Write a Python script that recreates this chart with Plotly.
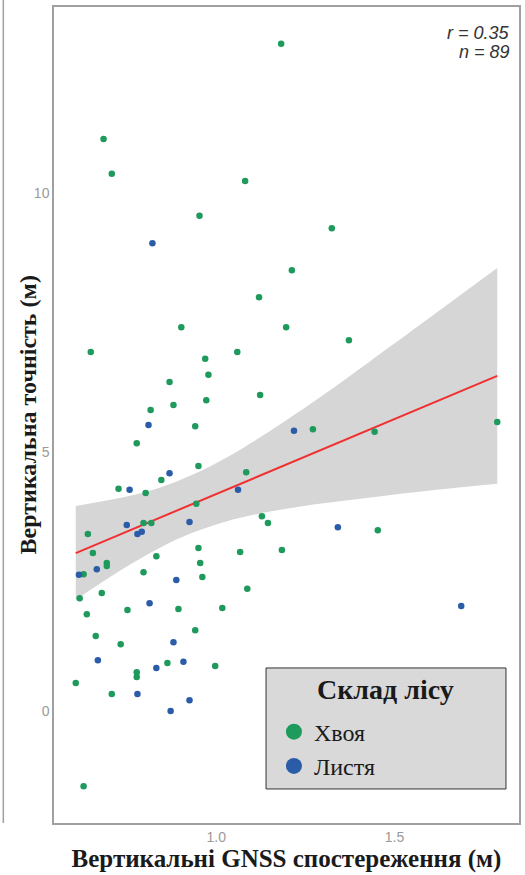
import plotly.graph_objects as go

conifer_x = [0.684, 0.707, 1.081, 0.953, 1.120, 1.182, 1.324, 1.212, 0.902, 0.648,
             1.059, 0.969, 0.978, 0.869, 1.123, 0.972, 0.880, 0.816, 0.941, 0.777,
             0.950, 1.084, 0.846, 0.726, 0.802, 0.944, 0.796, 0.818, 0.640, 0.950,
             0.654, 1.067, 0.832, 0.693, 0.693, 0.955, 0.628, 0.796, 0.961, 1.087,
             0.617, 0.679, 1.196, 1.372, 1.271, 1.444, 1.788, 1.128, 1.145, 1.453,
             1.184, 0.637, 0.751, 0.894, 1.017, 0.941, 0.662, 0.732, 0.863, 0.997,
             0.777, 0.777, 0.606, 0.707, 0.628]
conifer_y = [11.04, 10.37, 10.23, 9.56, 7.99, 12.88, 9.32, 8.51, 7.41, 6.93,
             6.93, 6.80, 6.49, 6.35, 6.10, 6.00, 5.91, 5.81, 5.50, 5.17,
             4.73, 4.61, 4.46, 4.29, 4.21, 4.00, 3.63, 3.63, 3.42, 3.15,
             3.05, 3.07, 2.99, 2.86, 2.80, 2.86, 2.64, 2.68, 2.59, 2.36,
             2.18, 2.28, 7.41, 7.16, 5.44, 5.39, 5.58, 3.76, 3.63, 3.49,
             3.11, 1.87, 1.95, 1.97, 1.99, 1.56, 1.45, 1.29, 0.93, 0.87,
             0.75, 0.66, 0.54, 0.33, -1.45]

leaf_x = [0.821, 0.810, 0.869, 0.757, 1.061, 0.749, 0.925, 0.779, 0.791, 0.615,
          0.665, 0.888, 1.218, 1.341, 0.813, 0.880, 0.668, 0.832, 0.908, 0.779,
          0.925, 0.872, 1.687]
leaf_y = [9.03, 5.52, 4.59, 4.27, 4.27, 3.59, 3.65, 3.42, 3.46, 2.63,
          2.74, 2.53, 5.41, 3.55, 2.08, 1.33, 0.98, 0.83, 0.95, 0.33,
          0.21, 0.00, 2.03]

# Linear fit and its 95% confidence band
fit_x = [0.606, 1.788]
fit_y = [3.05, 6.47]
band_x = [0.606, 0.749, 0.841, 0.933, 1.028, 1.120, 1.176, 1.300, 1.427, 1.600, 1.788]
band_hi = [3.96, 4.14, 4.31, 4.56, 4.89, 5.27, 5.52, 6.10, 6.73, 7.60, 8.55]
band_lo = [2.15, 2.79, 3.15, 3.44, 3.66, 3.81, 3.88, 4.01, 4.12, 4.26, 4.39]

group_names = ["Хвоя", "Листя"]
group_colors = ["#1e9a5c", "#2a5ca8"]
legend_title = "Склад лісу"

x_ticks = [1.0, 1.5]
y_ticks = [0, 5, 10]
stats_text = ["r = 0.35", "n = 89"]

serif = "Liberation Serif, Times New Roman, serif"
sans = "Liberation Sans, Arial, sans-serif"

fig = go.Figure()
fig.add_trace(go.Scatter(x=band_x, y=band_lo, mode="lines", line=dict(width=0, shape="spline"),
                         showlegend=False, hoverinfo="skip"))
fig.add_trace(go.Scatter(x=band_x, y=band_hi, mode="lines", line=dict(width=0, shape="spline"),
                         fill="tonexty", fillcolor="#d6d6d6", showlegend=False, hoverinfo="skip"))
fig.add_trace(go.Scatter(x=fit_x, y=fit_y, mode="lines", line=dict(color="#f03030", width=2),
                         showlegend=False))
for gx, gy, name, col in [(conifer_x, conifer_y, group_names[0], group_colors[0]),
                          (leaf_x, leaf_y, group_names[1], group_colors[1])]:
    fig.add_trace(go.Scatter(x=gx, y=gy, mode="markers", name=name,
                             marker=dict(color=col, size=6.5), showlegend=False))
    fig.add_trace(go.Scatter(x=[None], y=[None], mode="markers", name=name,
                             marker=dict(color=col, size=16), showlegend=True))

annotations = [
    dict(x=0.985, y=yy, xref="paper", yref="paper", xanchor="right", yanchor="middle",
         showarrow=False, text=f"<i>{t}</i>", font=dict(family=sans, size=18, color="#333333"))
    for t, yy in zip(stats_text, [0.968, 0.945])
]
annotations += [
    dict(x=-0.055, y=0.5, xref="paper", yref="paper", xanchor="center", yanchor="middle",
         textangle=-90, showarrow=False, text="<b>Вертикальна точність (м)</b>",
         font=dict(family=serif, size=24, color="#1a1a1a")),
    dict(x=0.713, y=0.163, xref="paper", yref="paper", xanchor="center", yanchor="middle",
         showarrow=False, text=f"<b>{legend_title}</b>",
         font=dict(family=serif, size=28, color="#1a1a1a")),
]

fig.update_layout(
    width=525, height=875,
    margin=dict(l=54, r=4, t=7, b=52),
    paper_bgcolor="white", plot_bgcolor="white",
    xaxis=dict(range=[0.545, 1.849], tickvals=x_ticks, ticktext=[f"{v:.1f}" for v in x_ticks],
               showgrid=False, zeroline=False, showline=True, mirror=True,
               linecolor="#a0a0a0", linewidth=1.5, ticks="",
               tickfont=dict(family=sans, size=14, color="#9a9a9a"),
               title=dict(text="<b>Вертикальні GNSS спостереження (м)</b>",
                          font=dict(family=serif, size=25, color="#1a1a1a"), standoff=5)),
    yaxis=dict(range=[-2.16, 13.59], tickvals=y_ticks, showgrid=False, zeroline=False,
               showline=True, mirror=True, linecolor="#a0a0a0", linewidth=1.5, ticks="",
               tickfont=dict(family=sans, size=14, color="#9a9a9a")),
    legend=dict(x=0.473, y=0.139, xanchor="left", yanchor="top",
                bgcolor="rgba(0,0,0,0)", borderwidth=0, traceorder="normal",
                font=dict(family=serif, size=24, color="#1a1a1a"),
                itemsizing="trace", tracegroupgap=0),
    annotations=annotations,
    shapes=[
        dict(type="line", xref="paper", yref="paper", x0=-0.109, x1=-0.109,
             y0=0.0, y1=1.01, line=dict(color="#a0a0a0", width=1.5)),
        dict(type="rect", xref="paper", yref="paper", x0=0.456, x1=0.972, y0=0.0417, y1=0.190,
             fillcolor="#d9d9d9", line=dict(color="#333333", width=1), layer="above"),
    ],
    showlegend=True,
)

fig.write_html("out.html")
